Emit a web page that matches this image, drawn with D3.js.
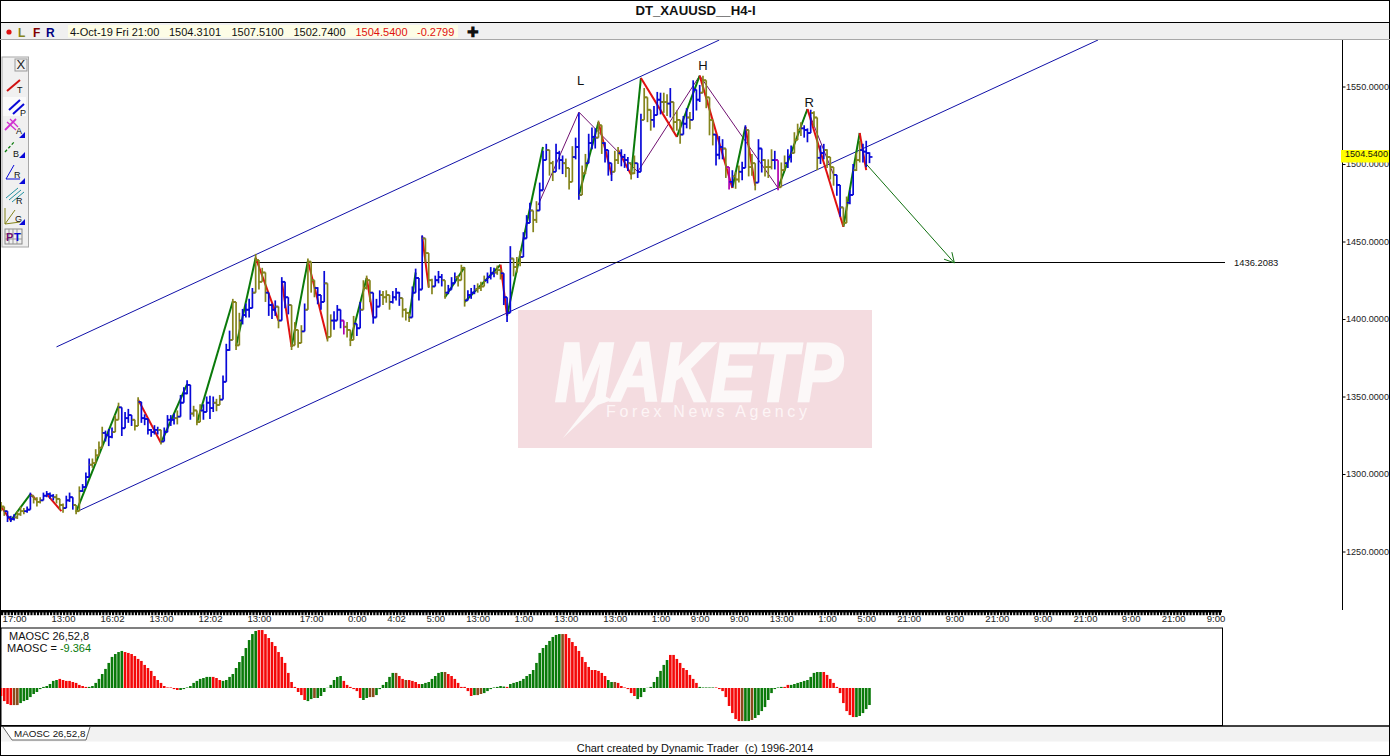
<!DOCTYPE html>
<html><head><meta charset="utf-8">
<script src="https://cdn.jsdelivr.net/npm/d3@7"></script>
<style>
html,body{margin:0;padding:0;background:#fff;overflow:hidden}
svg{display:block}
text{font-family:"Liberation Sans",Arial,sans-serif;fill:#111}
</style></head><body><svg id="c" width="1390" height="756"></svg>
<script>
const title="DT_XAUUSD__H4-I";
const infoDate="4-Oct-19 Fri 21:00";
const infoOHLC=["1504.3101","1507.5100","1502.7400","1504.5400","-0.2799"];
const priceTicks=[1250,1300,1350,1400,1450,1500,1550];
const lastPrice=1504.54, targetPrice=1436.2083;
const timeIdx=[4,19,34,49,64,79,95,109,121,133,146,160,173,188,202,214,226,239,253,265,278,292,305,319,332,346,359,372];
const timeLab=["17:00","13:00","16:02","13:00","12:02","13:00","17:00","0:00","4:02","5:00","13:00","1:00","13:00","13:00","1:00","9:00","9:00","13:00","1:00","5:00","21:00","9:00","21:00","9:00","21:00","9:00","21:00","9:00"];
const barClose=[1279,1276,1272,1271,1272,1274,1276,1276,1277,1286,
1284,1282,1283,1286,1287,1286,1285,1284,1280,1278,
1283,1285,1280,1276,1289,1291.5,1298,1306,1307,1312,
1317,1326.5,1325,1324,1327,1335,1343,1329.5,1336,1338,
1335,1331,1346.5,1336,1335.5,1328.5,1327,1328.5,1328.5,1321,
1327,1335,1335,1336,1337,1346,1352,1357.5,1339,1341,
1333.5,1341,1340,1346,1342.5,1346,1344.5,1348,1359.5,1380,
1386.5,1411,1383,1399,1402.5,1406,1407,1417,1438,1424,
1430,1417,1409,1406,1408,1399,1424,1414,1409,1383,
1393,1384.5,1392,1406,1437,1425,1420,1415.5,1411,1423,
1388.5,1399,1399,1406,1399,1395,1393,1386.5,1397,1394,
1406,1420,1425,1417,1401,1408,1415.5,1414,1415.5,1411,
1414,1417,1413.5,1406,1404,1401,1417,1426.5,1419,1452,
1442.5,1425,1421,1425,1427,1425,1417,1419,1423,1427,
1425,1433,1412,1415.5,1417,1419,1420,1421,1425,1427,
1429.5,1430,1431.5,1429.5,1414,1404,1439,1433.5,1436,1440,
1452,1462,1470,1464,1470,1483,1502.5,1509,1500.5,1495,
1507,1502.5,1500.5,1497.5,1488.5,1504.5,1511,1480,1494,1500.5,
1513.5,1517.5,1517,1525,1513.5,1509,1500.5,1495,1502.5,1507,
1504.5,1502.5,1500.5,1494,1500.5,1495,1528.5,1543,1535,1528.5,
1531.5,1541.5,1540,1540,1539,1540,1527,1528.5,1519,1526,
1530,1528.5,1548,1541.5,1546,1554,1543,1528.5,1519,1506,
1511,1510,1498,1488.5,1492,1490,1495,1497.5,1522,1498,
1500.5,1488,1510,1502.5,1498,1498,1502.5,1502.5,1485,1496,
1500.5,1504.5,1507,1515.5,1522,1523,1522,1520,1533,1530,
1504,1507,1509,1504.5,1498,1493,1486.5,1472,1462,1475,
1480,1496,1502.5,1509,1508,1507,1504.54];
const barUp=[3,2,2,2,2,2,3,2,2,2,2,3,2,2,2,2,2,3,4,3,
3,3,2,2,3,2,3,4,3,4,4,4,3,5,3,3,3,3,4,4,
3,3,3,2,3,2,2,3,2,2,3,3,3,3,4,5,4,3,3,3,
3,4,5,4,8,4,4,3,4,4,6,2,6,5,4,4,6,3,4,5,
3,4,5,4,4,5,3,5,4,4,5,4,4,4,2,5,3,5,4,8,
4,4,6,3,5,4,5,5,5,3,5,5,3,5,3,5,3,4,3,3,
4,3,4,3,3,3,4,6,4,2,4,5,5,3,4,4,5,3,4,3,
3,2,3,3,3,3,3,3,3,3,4,3,3,3,3,3,8,5,4,4,
4,5,5,6,6,5,6,4,6,7,6,6,5,6,5,7,6,53,5,6,
6,6,6,3,5,5,6,4,6,4,5,4,4,3,5,3,4,6,5,6,
6,5,6,6,6,9,5,6,4,5,6,5,6,5,5,3,6,7,5,6,
7,6,4,3,4,5,4,4,3,5,6,3,6,5,5,5,7,6,4,5,
5,5,5,5,4,4,3,3,2,4,5,5,4,5,5,4,4,3,3,4,
3,4,5,6,5,8,3];
const barDown=[3,3,3,2,2,3,3,2,2,3,3,3,2,2,2,2,2,3,3,3,
3,3,3,2,2,3,3,4,3,4,4,5,4,6,4,3,3,5,5,5,
4,3,4,3,4,3,3,3,3,2,3,4,4,4,5,5,6,6,4,4,
2,5,5,5,7,6,4,3,4,6,7,5,3,6,6,5,6,4,6,5,
6,6,7,6,6,5,6,7,6,3,6,3,6,5,5,8,6,6,5,6,
3,6,6,5,5,5,5,4,5,5,6,6,6,6,4,6,5,5,5,5,
4,5,5,5,5,3,5,7,7,6,6,5,5,4,4,4,4,3,3,4,
4,3,4,3,4,3,3,3,3,4,4,3,3,4,5,6,5,6,6,6,
6,6,7,8,8,6,6,5,8,6,6,6,7,6,5,8,8,3,7,7,
8,8,7,8,7,8,8,6,7,7,6,5,5,4,7,4,5,9,8,7,
8,7,8,7,8,10,6,7,6,7,7,6,6,7,6,7,7,10,7,7,
8,7,7,5,7,6,7,8,8,6,8,5,8,8,6,7,6,6,2,6,
5,7,6,7,5,5,5,6,5,6,8,7,6,7,8,7,7,6,2,6,
6,7,7,8,7,9,4];
const barColorRuns=[["o",2],["b",3],["o",3],["b",2],["o",3],["b",4],["o",3],["b",3],["o",2],["b",3],["o",4],["b",3],["o",2],["b",4],["o",2],["b",6],["o",1],["b",4],["o",1],["b",4],["o",3],["b",4],["o",2],["b",3],["o",3],["b",4],["o",4],["b",3],["o",1],["b",3],["o",4],["b",1],["o",3],["b",3],["o",2],["b",3],["m",1],["o",3],["b",2],["o",3],
["b",3],["o",3],["b",3],["o",3],["b",4],["o",3],["b",3],["o",1],["b",3],["o",3],["b",3],["o",3],["b",3],["o",2],["b",3],["o",3],["b",3],["o",2],["b",3],["o",2],["b",3],["o",3],["b",2],["o",2],["b",3],["o",2],["b",3],["o",2],["b",3],["o",2],["b",2],["o",3],["b",3],["o",2],["b",1],["o",3],["b",2],["o",1],["b",3],["o",4],["b",3],["o",1],["m",1],["b",1],["o",2],["b",2],["o",3],["b",2],["o",3],["b",1],["m",1],["o",2],["b",2],["o",3],["b",3],["o",2],["b",2],["o",3],["b",2],["o",2],["b",2],["o",2],["b",3]];
const upLegs=[[3,1270,9,1287],[23,1275.5,36,1344],[49,1320,57,1358],[60,1333,71,1411.5],[72,1382.5,78,1439.5],[89,1382,94,1437.5],[107,1386,112,1426.5],[125,1400.5,127,1430],[136,1414,142,1433.5],[142,1411,153,1435],[155,1402,166,1511],[177,1480,183,1527],[193,1493,196,1555.5],[207,1517.5,214,1557],[224,1484.5,228,1524],[238,1484.5,247,1535.5],[258,1459.5,263,1520]];
const downLegs=[[0,1279,3,1270],[9,1287,11,1283],[14,1287,18.5,1276],[42,1348,49,1320],[78,1439.5,85,1399],[86,1424.5,89,1382],[94,1437.5,100,1387],[112,1426.5,114,1401],[129,1453.5,131,1420.5],[153,1435,155,1402],[183,1527,187,1493],[189,1509,193,1493],[196,1555.5,207,1517.5],[214,1557,224,1484.5],[228,1524,231,1486],[247,1535.5,258,1459.5],[263,1520,265,1496]];
const patternIdx=[164.5,177,195,214,238,247,255];
const patternPrice=[1473.5,1533.5,1495,1557,1484.5,1535.5,1493];
const channelUpper=[[17,1382],[220,1580]];
const channelLower=[[23,1275.5],[336,1580]];
const targetLine=[[78,targetPrice],[375,targetPrice]];
const projection=[[265,1500],[292,targetPrice]];
const hsLabels=[["L",177.5,1551],["H",215,1560.5],["R",247.5,1537]];
const maosc=[-4.4,-7.2,-8.8,-9.4,-9.4,-9.4,-8.3,-7.2,-6.6,-5,
-3.3,-2.2,-.6,.6,1.1,2.2,3.9,4.4,5,4.4,
3.9,3.9,3.3,2.8,1.7,1.1,.6,.6,1.1,2.8,
5,7.7,10.5,13.8,17.1,18.7,19.8,20.4,19.8,19.3,
18.7,17.6,16,14.9,12.7,11,9.4,6.6,4.4,2.8,
1.1,.3,.3,-.6,-1.1,-1.1,-.6,.3,1.1,2.8,
3.9,5,5.5,6.1,6.1,6.1,5.5,4.4,3.9,4.4,
6.1,7.7,11,14.3,17.6,22,26.4,29.7,31.4,31.9,
31.9,29.7,27.5,25.3,23.1,19.8,17.1,13.8,8.3,3.3,
.6,-2.2,-3.9,-6.6,-7.2,-6.1,-5.5,-5.5,-4.4,-2.2,
.1,1.7,4.4,6.1,6.6,3.9,1.7,.6,-.6,-1.7,
-5.5,-6.6,-5.5,-5,-5,-3.9,-.6,1.7,3.3,6.1,
8.3,8.3,6.6,5,4.4,4.4,3.9,3.3,2.2,2.2,
2.8,3.3,5,6.6,8.3,8.8,8.8,7.7,6.6,5,
2.8,.6,.6,-1.7,-4.4,-3.9,-3.9,-3.3,-2.8,-1.7,
-.6,.3,.6,1.1,.8,.6,2.2,2.8,3.3,3.9,
5,6.6,7.7,9.9,13.8,19.3,22,23.7,25.9,28.1,
29.2,29.7,29.7,29.7,27.5,25.3,23.1,20.4,17.1,14.3,
11.6,9.9,9.9,9.4,8.3,6.6,4.4,3.3,3.3,2.8,
1.1,.3,-.6,-2.8,-4.4,-6.1,-5,-2.2,.1,.6,
3.3,6.1,9.4,12.7,15.4,18.2,18.2,16,13.8,11,
9.9,7.2,5,2.8,.6,.3,.3,.3,.3,.3,
-.6,-1.7,-5,-9.9,-13.8,-17.1,-18.2,-18.2,-18.2,-18.2,
-17.6,-16.5,-14.9,-12.7,-10.5,-6.6,-2.8,-.6,.3,.6,
.6,1.7,1.7,2.2,2.8,3.3,3.9,4.4,6.1,8.3,
8.8,8.8,8.8,7.2,5,2.8,.6,-2.8,-8.3,-12.7,
-14.9,-16,-16,-15.4,-13.8,-11.6,-9.364];
const maoscColorRuns=[["r",4],["n",2],["g",12],["r",9],["g",11],["r",17],["g",10],["r",1],["r",2],["g",11],["r",15],["g",2],["n",1],["g",8],["r",6],["g",2],["n",2],["g",6],["n",1],["r",2],["n",1],["r",4],["g",7],["n",1],["r",8],["g",1],["n",2],["g",7],["r",1],["g",16],["n",1],["r",13],["g",2],["n",1],["r",6],["g",10],["r",9],["g",5],["r",8],["n",1],["g",2],["n",1],["g",9],["r",2],["g",10],["r",10],["g",4]];

const expand=r=>r.flatMap(([c,n])=>Array(n).fill(c));
const barColors=expand(barColorRuns), maoscColors=expand(maoscColorRuns);
const barPal={b:"#0808d8",o:"#84841c",m:"#b000b0"};
const oscPal={r:"#f40808",g:"#0a7a0a",n:"#8a4a1c"};

const svg=d3.select("#c");
const x=d3.scaleLinear().domain([0,374]).range([1,1222.1]);
const y=d3.scaleLinear().domain([1550,1250]).range([86.5,551.5]);
const yOsc=d3.scaleLinear().domain([0,30]).range([688,633.5]);
const ln=d3.line().x(d=>x(d[0])).y(d=>y(d[1]));

// frame bars
svg.append("rect").attr("x",0).attr("y",23).attr("width",1390).attr("height",16.5).attr("fill","#f0f0f0");
svg.append("rect").attr("x",68).attr("y",25).attr("width",390).attr("height",12.5).attr("fill","#fdfde6");
svg.append("rect").attr("x",0).attr("y",727).attr("width",1390).attr("height",14.5).attr("fill","#f2f2f2");

// watermark
const wm=svg.append("g");
wm.append("rect").attr("x",518).attr("y",310).attr("width",354).attr("height",138).attr("fill","#f4dce0");
wm.append("text").attr("x",555).attr("y",401).attr("textLength",288).attr("lengthAdjust","spacingAndGlyphs")
 .attr("font-size",84).attr("font-weight","bold").attr("font-style","italic").style("fill","#fcf8f8").style("stroke","#fcf8f8").style("stroke-width",2.5).text("MAKETP");
wm.append("path").attr("d","M563,438 L598,392 L612,400 L598,405 Z").attr("fill","#fcf8f8");
wm.append("text").attr("x",606).attr("y",417).attr("textLength",201).attr("font-size",16).style("fill","#fdf5f6").text("Forex News Agency");

// price plot
const defs=svg.append("defs");
defs.append("clipPath").attr("id","pc").append("rect").attr("x",1).attr("y",40).attr("width",1341).attr("height",570);
const plot=svg.append("g").attr("clip-path","url(#pc)");
plot.selectAll(".ch").data([channelUpper,channelLower]).join("path").attr("d",ln).attr("fill","none").attr("stroke","#1010a8").attr("stroke-width",1);
plot.append("path").attr("d",ln(targetLine)).attr("stroke","#000").attr("stroke-width",1).attr("fill","none").attr("shape-rendering","crispEdges");
plot.append("path").attr("d",ln(patternIdx.map((d,i)=>[d,patternPrice[i]]))).attr("fill","none").attr("stroke","#701070").attr("stroke-width",1);

plot.selectAll(".up").data(upLegs).join("line").attr("x1",d=>x(d[0])).attr("y1",d=>y(d[1])).attr("x2",d=>x(d[2])).attr("y2",d=>y(d[3])).attr("stroke","#0a7a0a").attr("stroke-width",2);
plot.selectAll(".dn").data(downLegs).join("line").attr("x1",d=>x(d[0])).attr("y1",d=>y(d[1])).attr("x2",d=>x(d[2])).attr("y2",d=>y(d[3])).attr("stroke","#e01010").attr("stroke-width",2);

const bars=barClose.map((c,i)=>{const o=i?barClose[i-1]:c;return {i,o,c,h:Math.max(c+barUp[i],o),l:Math.min(c-barDown[i],o),col:barPal[barColors[i]]||barPal.b};});
const g=plot.append("g").selectAll("g").data(bars).join("g").attr("stroke",d=>d.col).attr("stroke-width",1.7);
g.append("line").attr("x1",d=>x(d.i)).attr("x2",d=>x(d.i)).attr("y1",d=>y(d.h)).attr("y2",d=>y(d.l));
g.append("line").attr("x1",d=>x(d.i)-3).attr("x2",d=>x(d.i)).attr("y1",d=>y(d.o)).attr("y2",d=>y(d.o));
g.append("line").attr("x1",d=>x(d.i)).attr("x2",d=>x(d.i)+3).attr("y1",d=>y(d.c)).attr("y2",d=>y(d.c));

// projection arrow
plot.append("path").attr("d",ln(projection)).attr("stroke","#107010").attr("fill","none").attr("stroke-width",1);
const ax=x(projection[1][0]),ay=y(projection[1][1]);
const ang=Math.atan2(ay-y(projection[0][1]),ax-x(projection[0][0]));
[0.5,-0.5].forEach(a=>plot.append("line").attr("x1",ax).attr("y1",ay).attr("x2",ax-11*Math.cos(ang+a)).attr("y2",ay-11*Math.sin(ang+a)).attr("stroke","#107010"));

plot.selectAll(".hs").data(hsLabels).join("text").attr("x",d=>x(d[1])).attr("y",d=>y(d[2])).attr("text-anchor","middle").attr("font-size",13).text(d=>d[0]);
svg.append("text").attr("x",1234).attr("y",y(targetPrice)+3).attr("font-size",9.4).text(targetPrice.toFixed(4));

// price axis
const ya=svg.append("g").attr("transform","translate(1342.5,0)").call(d3.axisRight(y).tickValues(priceTicks).tickSize(3).tickFormat(d=>d.toFixed(4)));
ya.select(".domain").remove();
ya.selectAll("line").attr("stroke","#000");
ya.selectAll("text").attr("x",3.5).attr("font-size",9.1).attr("font-family","Liberation Sans").style("fill","#222");
svg.append("line").attr("x1",1342.5).attr("x2",1342.5).attr("y1",40).attr("y2",610).attr("stroke","#000");
svg.append("rect").attr("x",1341).attr("y",150).attr("width",48).attr("height",12.5).attr("fill","#ffff00");
svg.append("text").attr("x",1345).attr("y",y(lastPrice)-3.5).attr("dy",3.5).attr("font-size",9.1).text(lastPrice.toFixed(4));

// time axis
svg.append("rect").attr("x",1).attr("y",610).attr("width",1221).attr("height",2.5).attr("fill","#000");
svg.append("g").selectAll("rect").data(d3.range(0,374)).join("rect").attr("x",d=>x(d)).attr("y",612).attr("width",2.2).attr("height",3.2).attr("fill","#000");
const ta=svg.append("g").attr("transform","translate(0,614)").call(d3.axisBottom(x).tickValues(timeIdx).tickSize(0).tickFormat((d,i)=>timeLab[i]));
ta.select(".domain").remove();
ta.selectAll("text").attr("font-size",9.6).attr("font-family","Liberation Sans").style("fill","#222").attr("y",1).attr("dy","0.71em");

// oscillator
svg.append("rect").attr("x",1).attr("y",628).attr("width",1221.5).attr("height",97.5).attr("fill","none").attr("stroke","#000").attr("stroke-width",1);
svg.append("g").selectAll("rect").data(maosc).join("rect")
 .attr("x",(d,i)=>x(i)-1.3).attr("width",2.6)
 .attr("y",d=>d>=0?yOsc(d):yOsc(0)).attr("height",d=>Math.abs(yOsc(d)-yOsc(0)))
 .attr("fill",(d,i)=>oscPal[maoscColors[i]]||oscPal.g);
svg.append("text").attr("x",9).attr("y",640).attr("font-size",11).text("MAOSC 26,52,8");
const mv=svg.append("text").attr("x",7).attr("y",652).attr("font-size",11);
mv.append("tspan").text("MAOSC = ");
mv.append("tspan").style("fill","#0a7a0a").text(maosc[maosc.length-1].toFixed(3));

// tab and footer
svg.append("path").attr("d","M3,727 L12,740 L86,740 L90,727").attr("fill","#fff").attr("stroke","#666");
svg.append("text").attr("x",14).attr("y",737).attr("font-size",9.8).text("MAOSC 26,52,8");
svg.append("text").attr("x",695).attr("y",751.5).attr("text-anchor","middle").attr("font-size",11).attr("xml:space","preserve").text("Chart created by Dynamic Trader  (c) 1996-2014");

// header
svg.append("text").attr("x",695.5).attr("y",14.5).attr("text-anchor","middle").attr("font-size",13.2).attr("font-weight","bold").text(title);
svg.append("circle").attr("cx",9).attr("cy",32).attr("r",2.6).attr("fill","#e01010");
[["L",18,"#84841c"],["F",33,"#800000"],["R",46,"#000080"]].forEach(d=>svg.append("text").attr("x",d[1]).attr("y",36.5).attr("font-size",12).attr("font-weight","bold").style("fill",d[2]).text(d[0]));
svg.append("text").attr("x",70).attr("y",36).attr("font-size",11).text(infoDate);
[169,231.5,293.5,355.5,417].forEach((px,i)=>svg.append("text").attr("x",px).attr("y",36).attr("font-size",11).style("fill",i>=3?"#e01010":"#111").text(infoOHLC[i]));
svg.append("text").attr("x",467).attr("y",36.5).attr("font-size",14).attr("font-weight","bold").text("✚");

// toolbar
const tb=svg.append("g");
tb.append("rect").attr("x",2).attr("y",57).attr("width",26.5).attr("height",190).attr("fill","#f0f0f0").attr("stroke","#a8a8a8");
tb.append("rect").attr("x",15).attr("y",59).attr("width",12).attr("height",12).attr("fill","#f0f0f0").attr("stroke","#999");
tb.append("rect").attr("x",3).attr("y",97).attr("width",23).attr("height",19).attr("fill","#fafafa");
const L=(a,b,c,d,col,w)=>tb.append("line").attr("x1",a).attr("y1",b).attr("x2",c).attr("y2",d).attr("stroke",col).attr("stroke-width",w||1);
const T=(s,a,b,col,fs)=>tb.append("text").attr("x",a).attr("y",b).attr("font-size",fs||9).style("fill",col||"#111").text(s);
const Tri=(a,b)=>tb.append("path").attr("d",`M${a},${b} l6,0 l0,-6 Z`).attr("fill","#0808d8");
T("X",16.5,69,"#222",13);
L(7,91,20,80,"#d01010",2); T("T",17,93);
L(9,110,20,100,"#0808d8",2); L(13,114,24,104,"#0808d8",2); T("P",20,116);
L(5,130,16,119,"#d030d0",1.8); L(7,122,16,130,"#d030d0",1.3); L(10,119,18,127,"#d030d0",1.3); T("A",16,134); Tri(19,138);
tb.append("line").attr("x1",5).attr("y1",152).attr("x2",15).attr("y2",141).attr("stroke","#0a7a0a").attr("stroke-width",1.3).attr("stroke-dasharray","3,2"); T("B",13,157); Tri(19,158);
tb.append("path").attr("d","M14,165 L6,179 L20,179").attr("fill","none").attr("stroke","#0808d8"); T("R",14,178); Tri(19,184);
L(6,198,18,188,"#2090a0"); L(9,200,21,190,"#2090a0"); L(12,202,24,192,"#2090a0"); T("R",16,204);
L(5,224,5,208,"#84841c"); L(5,224,15,210,"#84841c"); L(5,224,20,222,"#84841c"); T("G",15,222); Tri(19,225);
tb.append("rect").attr("x",5).attr("y",229).attr("width",17).attr("height",15).attr("fill","#f0f0f0").attr("stroke","#888");
[9,13,17].forEach(a=>L(a,229,a,244,"#999")); [234,239].forEach(a=>L(5,a,22,a,"#999"));
T("P",6,241,"#701070",11).attr("font-weight","bold"); T("T",14,241,"#0808d8",11).attr("font-weight","bold");

// window frame
svg.append("rect").attr("x",.5).attr("y",.5).attr("width",1389).attr("height",755).attr("fill","none").attr("stroke","#000");
svg.append("line").attr("x1",0).attr("x2",1390).attr("y1",22.5).attr("y2",22.5).attr("stroke","#000");
svg.append("line").attr("x1",0).attr("x2",1390).attr("y1",39.5).attr("y2",39.5).attr("stroke","#a8a8a8");
svg.append("line").attr("x1",0).attr("x2",1390).attr("y1",726).attr("y2",726).attr("stroke","#000").attr("stroke-width",1.5);
</script></body></html>
